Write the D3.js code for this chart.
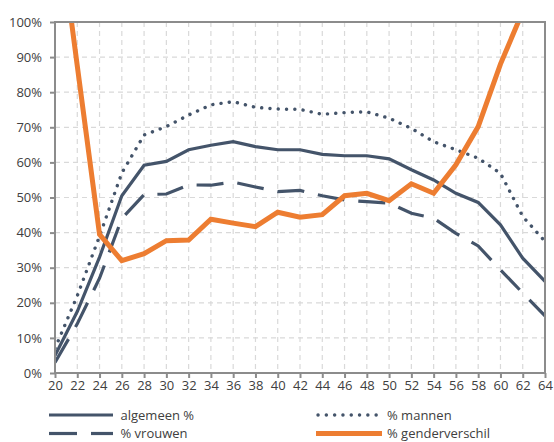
<!DOCTYPE html>
<html>
<head>
<meta charset="utf-8">
<script src="https://cdn.jsdelivr.net/npm/d3@7"></script>
<style>
  html, body { margin: 0; padding: 0; background: #fff; }
  svg { display: block; font-family: "Open Sans", sans-serif; }
</style>
</head>
<body>
<svg id="chart" width="554" height="442"></svg>
<script>
const ages = [20,22,24,26,28,30,32,34,36,38,40,42,44,46,48,50,52,54,56,58,60,62,64];
const algemeen = [5,17.5,33,50.5,59.2,60.3,63.6,64.9,65.9,64.5,63.6,63.6,62.3,61.9,61.9,61.0,57.9,55.0,51.2,48.6,42.2,32.7,26.1];
const mannen = [7,22,39,57,67.8,70.2,73.5,76.4,77.3,75.7,75.2,75.1,73.7,74.2,74.4,72.6,69.7,65.9,63.6,61.2,56.9,44.6,37.5];
const vrouwen = [3,14,27,44,50.8,51.0,53.6,53.5,54.4,53.0,51.7,52.0,50.5,49.3,48.8,48.4,45.5,44.1,39.8,36.2,29.4,22.8,16.3];
const genderverschil = [136,87.5,39.5,32,34,37.7,37.9,43.8,42.7,41.7,45.8,44.4,45.1,50.5,51.2,49.1,53.9,51.2,59.3,70.2,88,103,130];
const yTicks = [0,10,20,30,40,50,60,70,80,90,100];
const seriesNames = ["algemeen %", "% vrouwen", "% mannen", "% genderverschil"];

const svg = d3.select("#chart");
const pLeft = 55, pRight = 545, pTop = 22, pBottom = 373;

const x = d3.scalePoint().domain(ages).range([pLeft, pRight]).padding(0);
const y = d3.scaleLinear().domain([0, 100]).range([pBottom, pTop]);

const gridColor = "#d9d9d9";
const axisColor = "#8c8c8c";
const textColor = "#404040";
const slate = "#44546a";
const orange = "#ed7d31";

// grid
svg.append("g").selectAll("line").data(yTicks.slice(1)).join("line")
  .attr("x1", pLeft).attr("x2", pRight)
  .attr("y1", d => y(d)).attr("y2", d => y(d))
  .attr("stroke", gridColor).attr("stroke-width", 1.2).attr("stroke-dasharray", "5,4");
svg.append("g").selectAll("line").data(ages.slice(1)).join("line")
  .attr("x1", d => x(d)).attr("x2", d => x(d))
  .attr("y1", pTop).attr("y2", pBottom)
  .attr("stroke", gridColor).attr("stroke-width", 1.2).attr("stroke-dasharray", "5,4");

// clip
svg.append("clipPath").attr("id", "plotclip").append("rect")
  .attr("x", pLeft).attr("y", pTop).attr("width", pRight - pLeft).attr("height", pBottom - pTop);

const line = d3.line().x((d, i) => x(ages[i])).y(d => y(d));
const plot = svg.append("g").attr("clip-path", "url(#plotclip)");

plot.append("path").datum(vrouwen).attr("d", line)
  .attr("fill", "none").attr("stroke", slate).attr("stroke-width", 3.2)
  .attr("stroke-dasharray", "27,14");
plot.append("path").datum(mannen).attr("d", line)
  .attr("fill", "none").attr("stroke", slate).attr("stroke-width", 3.4)
  .attr("stroke-linecap", "round").attr("stroke-dasharray", "0.1,8.2");
plot.append("path").datum(algemeen).attr("d", line)
  .attr("fill", "none").attr("stroke", slate).attr("stroke-width", 3.2);
plot.append("path").datum(genderverschil).attr("d", line)
  .attr("fill", "none").attr("stroke", orange).attr("stroke-width", 5);

// frame
svg.append("rect").attr("x", pLeft).attr("y", pTop).attr("width", pRight - pLeft).attr("height", pBottom - pTop)
  .attr("fill", "none").attr("stroke", axisColor).attr("stroke-width", 2);

// axes
const yAxis = d3.axisLeft(y).tickValues(yTicks).tickFormat(d => d + "%").tickSize(5).tickPadding(8);
const gy = svg.append("g").attr("transform", `translate(${pLeft},0)`).call(yAxis);
gy.select(".domain").remove();
gy.selectAll(".tick line").attr("stroke", axisColor).attr("stroke-width", 2);
gy.selectAll(".tick text").attr("fill", textColor).style("font-size", "13px").style("font-family", "'Open Sans', sans-serif");

const xAxis = d3.axisBottom(x).tickSize(5).tickPadding(3);
const gx = svg.append("g").attr("transform", `translate(0,${pBottom})`).call(xAxis);
gx.select(".domain").remove();
gx.selectAll(".tick line").attr("stroke", axisColor).attr("stroke-width", 2);
gx.selectAll(".tick text").attr("fill", textColor).style("font-size", "13px").style("font-family", "'Open Sans', sans-serif");

// legend
const legendItems = [
  {name: seriesNames[0], lx: 49, ly: 415, color: slate, w: 3.2, dash: null, cap: "butt", len: 64},
  {name: seriesNames[2], lx: 316, ly: 415, color: slate, w: 3.4, dash: "0.1,8.2", cap: "round", len: 63},
  {name: seriesNames[1], lx: 49, ly: 433.5, color: slate, w: 3.2, dash: null, cap: "butt", len: 64, split: true},
  {name: seriesNames[3], lx: 316, ly: 433.5, color: orange, w: 5, dash: null, cap: "butt", len: 66}
];
const lg = svg.append("g");
legendItems.forEach(l => {
  if (l.split) {
    lg.append("line").attr("x1", l.lx).attr("x2", l.lx + 28).attr("y1", l.ly).attr("y2", l.ly)
      .attr("stroke", l.color).attr("stroke-width", l.w);
    lg.append("line").attr("x1", l.lx + 42).attr("x2", l.lx + l.len).attr("y1", l.ly).attr("y2", l.ly)
      .attr("stroke", l.color).attr("stroke-width", l.w);
  } else {
    lg.append("line").attr("x1", l.lx + (l.cap === "round" ? 2 : 0)).attr("x2", l.lx + l.len).attr("y1", l.ly).attr("y2", l.ly)
      .attr("stroke", l.color).attr("stroke-width", l.w)
      .attr("stroke-linecap", l.cap).attr("stroke-dasharray", l.dash);
  }
  lg.append("text").attr("x", l.lx + (l.lx < 100 ? 71.5 : 71)).attr("y", l.ly + 4.5)
    .attr("fill", textColor).style("font-size", "13px").text(l.name);
});
</script>
</body>
</html>
